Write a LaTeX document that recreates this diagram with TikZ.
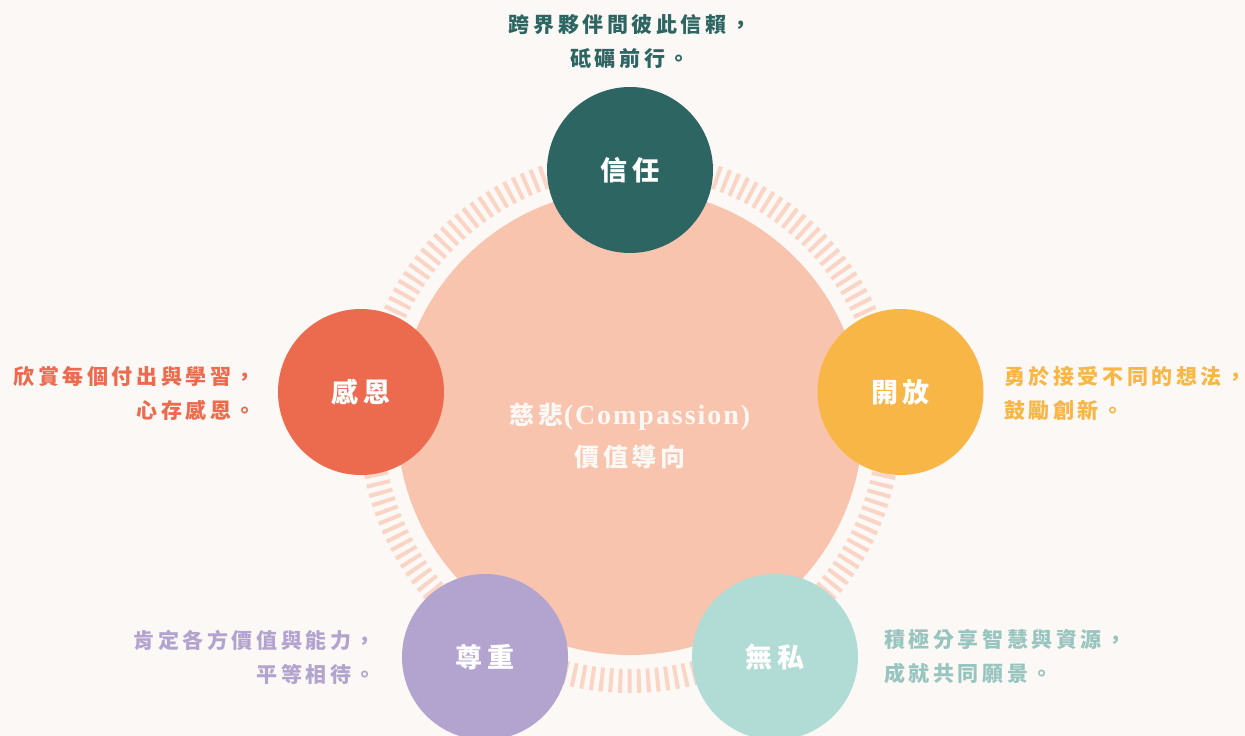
\documentclass[tikz,border=0pt]{standalone}
\usepackage{fontspec}
\newfontfamily\cjk{Noto Sans CJK TC}
\newfontfamily\lat{Liberation Serif}
\definecolor{bg}{HTML}{FCF8F5}
\definecolor{peach}{HTML}{F8C4AE}
\definecolor{tick}{HTML}{FAD5C6}
\definecolor{teal}{HTML}{2D6563}
\definecolor{amber}{HTML}{F8B646}
\definecolor{coral}{HTML}{EC6A4E}
\definecolor{lilac}{HTML}{B3A3CF}
\definecolor{mint}{HTML}{B1DCD6}
\definecolor{minttext}{HTML}{98C5C0}
\tikzset{
  dot/.style={circle, minimum size=166pt, inner sep=0pt, text=white,
    font=\cjk\bfseries\fontsize{27}{30}\selectfont\addfontfeature{LetterSpace=15}},
  desc/.style={inner sep=0pt,
    font=\cjk\bfseries\fontsize{21}{34}\selectfont\addfontfeature{LetterSpace=17}},
  ring/.style={draw=tick, line width=24pt, dash pattern=on 4pt off 5.3pt}
}
\begin{document}
\begin{tikzpicture}[x=1pt,y=-1pt]
\useasboundingbox (0,0) rectangle (1245,736);
\fill[bg] (0,0) rectangle (1245,736);
\coordinate (c) at (630,422);
\draw[ring] (c) circle (259pt);
\node[circle, fill=peach, minimum size=466pt, inner sep=0pt] (core) at (c) {};
\node[inner sep=0pt, text=bg, align=center, font=\fontsize{25}{42}\selectfont] (coretext) at (630,436)
  {{\cjk\bfseries\fontsize{25}{42}\selectfont\addfontfeature{LetterSpace=16}慈悲}{\lat\bfseries\fontsize{28}{42}\selectfont\addfontfeature{LetterSpace=7}(Compassion)}\\
   {\cjk\bfseries\fontsize{25}{42}\selectfont\addfontfeature{LetterSpace=14}價值導向}};
\node[dot, fill=teal] (trust) at (630,170) {信任};
\node[dot, fill=amber] (open) at (900.5,392) {開放};
\node[dot, fill=coral] (grat) at (361,392) {感恩};
\node[dot, fill=lilac] (resp) at (485,657) {尊重};
\node[dot, fill=mint] (self) at (775,657) {無私};
\node[desc, text=teal, align=center] (ttrust) at (630,41) {跨界夥伴間彼此信賴，\\砥礪前行。};
\node[desc, text=coral, align=right, anchor=east] (tgrat) at (256,393) {欣賞每個付出與學習，\\心存感恩。};
\node[desc, text=amber, align=left, anchor=west] (topen) at (1004,393) {勇於接受不同的想法，\\鼓勵創新。};
\node[desc, text=lilac, align=right, anchor=east] (tresp) at (376,657) {肯定各方價值與能力，\\平等相待。};
\node[desc, text=minttext, align=left, anchor=west] (tself) at (884,657) {積極分享智慧與資源，\\成就共同願景。};
\end{tikzpicture}
\end{document}
